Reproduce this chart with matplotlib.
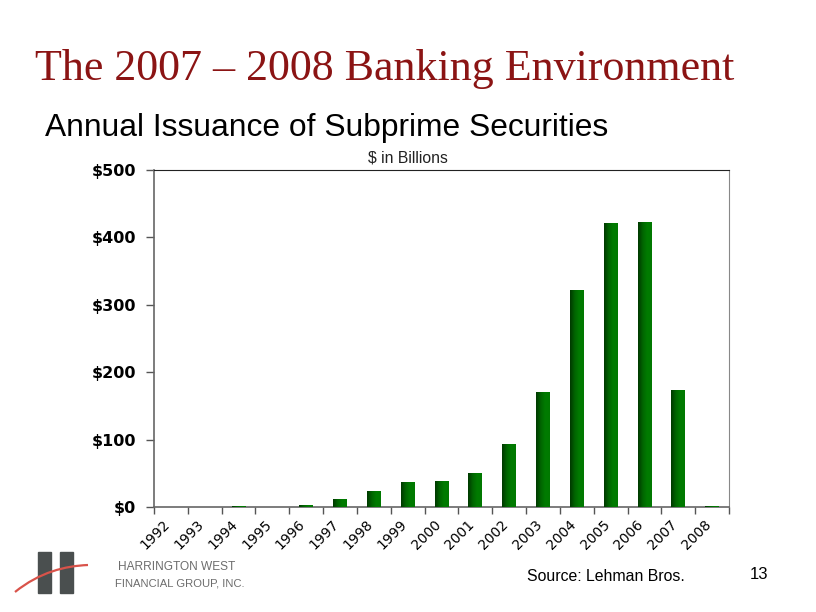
import matplotlib
matplotlib.use("Agg")
import matplotlib.pyplot as plt
import numpy as np
from matplotlib.patches import Rectangle, PathPatch
from matplotlib.path import Path
import matplotlib.transforms as mtransforms
from matplotlib.colors import LinearSegmentedColormap

years = ["1992", "1993", "1994", "1995", "1996", "1997", "1998", "1999", "2000",
         "2001", "2002", "2003", "2004", "2005", "2006", "2007", "2008"]
issuance = [0, 0, 1, 0, 3.5, 12.5, 23.5, 37.5, 38.5, 51, 93, 171, 322, 421.5, 423, 174, 1]
yticks = [0, 100, 200, 300, 400, 500]
ytick_labels = ["$0", "$100", "$200", "$300", "$400", "$500"]

fig = plt.figure(figsize=(8.16, 6.12), dpi=100)
fig.patch.set_facecolor("white")

ax = fig.add_axes([154/816, 1-507/612, (729-154)/816, (507-170)/612])
n = len(years)
x = np.arange(n) + 0.5
bars = ax.bar(x, issuance, width=0.41, color="#006a00", edgecolor="none", zorder=2)

# horizontal gradient (dark left -> bright right) clipped to each bar
grad = np.linspace(0, 1, 64).reshape(1, -1)
cmap = LinearSegmentedColormap.from_list("g", ["#003800", "#006400", "#007c00", "#007800"])
for b in bars:
    h = b.get_height()
    if h <= 0:
        continue
    x0 = b.get_x(); w = b.get_width()
    im = ax.imshow(grad, cmap=cmap, aspect="auto", extent=[x0, x0 + w, 0, h],
                   zorder=3, interpolation="bicubic")
    im.set_clip_path(b)

ax.set_xlim(0, n)
ax.set_ylim(0, 500)
ax.set_xticks(np.arange(n + 1))
ax.set_xticklabels([])
ax.set_yticks(yticks)
ax.set_yticklabels(ytick_labels, fontsize=11.5, fontweight="bold", family="DejaVu Sans")
ax.tick_params(axis="y", direction="out", length=6, width=1, color="#555555", pad=7)
ax.tick_params(axis="x", direction="out", length=5, width=1, color="#555555")
for s in ["left", "bottom"]:
    ax.spines[s].set_color("#666666")
    ax.spines[s].set_linewidth(1.2)
ax.spines["top"].set_color("#222222")
ax.spines["right"].set_color("#888888")

# rotated category labels
offset = mtransforms.ScaledTranslation(-8/100, -10/100, fig.dpi_scale_trans)
trans = mtransforms.blended_transform_factory(ax.transData, ax.transAxes) + offset
for xi, lab in zip(x, years):
    ax.text(xi, 0, lab, rotation=45, ha="right", va="top", rotation_mode="anchor",
            transform=trans, fontsize=10, family="DejaVu Sans")

# titles
fig.text(35/816, 1-80/612, "The 2007 \u2013 2008 Banking Environment", fontsize=31.7,
         family="Liberation Serif", color="#8b1414", ha="left", va="baseline")
fig.text(45/816, 1-136/612, "Annual Issuance of Subprime Securities", fontsize=22.9,
         family="Liberation Sans", color="black", ha="left", va="baseline")
fig.text(408/816, 1-163/612, "$ in Billions", fontsize=11.3,
         family="Liberation Sans", color="#222222", ha="center", va="baseline")
fig.text(527/816, 1-581/612, "Source: Lehman Bros.", fontsize=11.4,
         family="Liberation Sans", color="black", ha="left", va="baseline")
fig.text(750/816, 1-579/612, "13", fontsize=12,
         family="Liberation Sans", color="black", ha="left", va="baseline")

# logo
lax = fig.add_axes([0, 0, 1, 1], zorder=-1)
lax.set_xlim(0, 816); lax.set_ylim(612, 0); lax.axis("off")
lax.add_patch(Rectangle((38, 552), 13, 41, color="#4a4f4f"))
lax.add_patch(Rectangle((60, 552), 13, 41, color="#4a4f4f"))
verts = [(15, 592), (40, 572), (65, 566), (88, 565)]
codes = [Path.MOVETO, Path.CURVE4, Path.CURVE4, Path.CURVE4]
lax.add_patch(PathPatch(Path(verts, codes), fill=False, edgecolor="#d9534a", lw=1.6))
gray = "#6d6d6d"
fig.text(118/816, 1-570/612, "HARRINGTON WEST", fontsize=8.6, family="Liberation Sans",
         color=gray, va="baseline")
fig.text(115/816, 1-586/612, "FINANCIAL GROUP, INC.", fontsize=8.1, family="Liberation Sans",
         color=gray, va="baseline")

fig.savefig("out.png", dpi=100, facecolor="white")
